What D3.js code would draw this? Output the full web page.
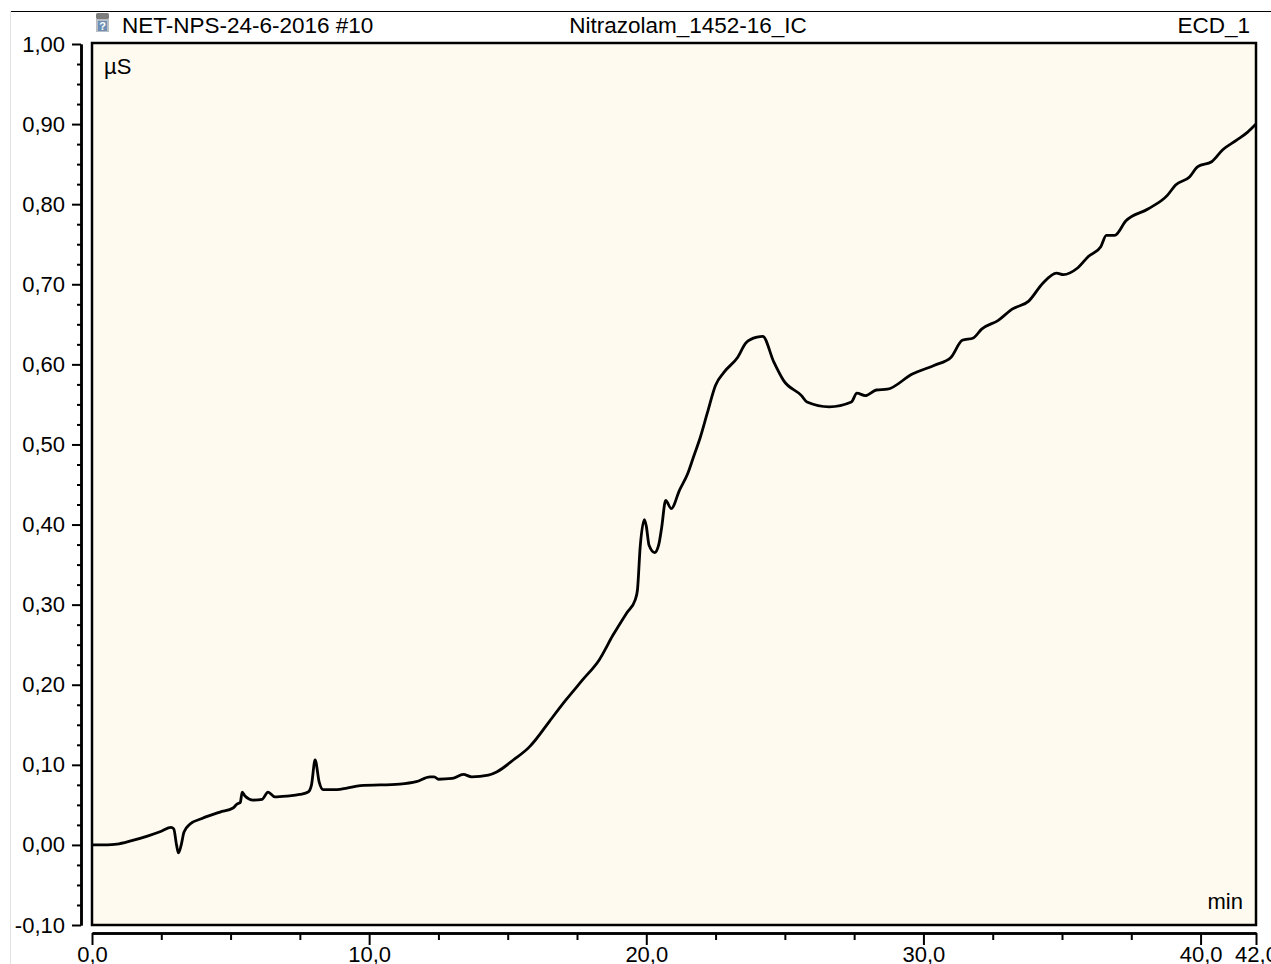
<!DOCTYPE html>
<html>
<head>
<meta charset="utf-8">
<script src="https://cdn.jsdelivr.net/npm/d3@7"></script>
<style>
  html, body { margin: 0; padding: 0; background: #ffffff; }
  svg { display: block; }
  text { font-family: "Liberation Sans", Arial, sans-serif; fill: #000; }
</style>
</head>
<body>
<script>
// Chromatogram trace: retention time (min) and detector signal (µS)
const timeMin = [
  0.0, 0.55, 0.9, 1.4, 2.0, 2.5, 2.85, 2.95, 3.05, 3.12, 3.22, 3.32, 3.54, 3.97,
  4.62, 5.09, 5.23, 5.35, 5.42, 5.52, 5.81, 6.14, 6.35, 6.6, 7.04, 7.5, 7.8, 7.92,
  8.05, 8.2, 8.34, 8.84, 9.2, 9.68, 11.1, 11.7, 12.2, 12.35, 12.5, 13.0, 13.4, 13.7,
  14.3, 14.6, 15.2, 15.8, 16.0, 16.5, 17.1, 17.7, 18.3, 18.8, 19.3, 19.6, 19.68,
  19.78, 19.93, 20.0, 20.1, 20.3, 20.45, 20.55, 20.7, 20.9, 21.2, 21.5, 21.7, 21.95,
  22.2, 22.5, 22.8, 23.3, 23.6, 24.0, 24.2, 24.6, 24.95, 25.6, 25.8, 26.6, 27.4,
  27.6, 27.9, 28.3, 28.7, 29.6, 30.4, 31.0, 31.4, 31.8, 32.1, 32.7, 33.2, 33.8,
  34.3, 34.8, 35.05, 35.55, 35.96, 36.4, 36.6, 36.9, 37.3, 38.1, 38.8, 39.1, 39.6,
  39.9, 40.4, 40.8, 41.3, 41.7, 42.0
];
const signalUS = [
  0.000, 0.000, 0.001, 0.005, 0.011, 0.017, 0.022, 0.020, 0.000, -0.010, 0.000, 0.016, 0.026, 0.033,
  0.041, 0.046, 0.051, 0.053, 0.066, 0.061, 0.056, 0.057, 0.066, 0.060, 0.061, 0.063, 0.066, 0.075,
  0.106, 0.078, 0.069, 0.069, 0.071, 0.074, 0.076, 0.079, 0.085, 0.085, 0.082, 0.083, 0.088, 0.085,
  0.087, 0.091, 0.106, 0.123, 0.131, 0.154, 0.181, 0.206, 0.231, 0.262, 0.290, 0.306, 0.318,
  0.372, 0.406, 0.398, 0.374, 0.365, 0.375, 0.395, 0.430, 0.420, 0.443, 0.464, 0.484, 0.509,
  0.539, 0.574, 0.590, 0.609, 0.627, 0.634, 0.635, 0.603, 0.580, 0.561, 0.553, 0.547, 0.553,
  0.564, 0.561, 0.568, 0.569, 0.588, 0.599, 0.609, 0.630, 0.633, 0.644, 0.655, 0.669, 0.679,
  0.701, 0.714, 0.712, 0.720, 0.735, 0.747, 0.761, 0.761, 0.779, 0.794, 0.811, 0.824, 0.834,
  0.847, 0.853, 0.868, 0.880, 0.890, 0.900
];

// Axis ticks and their labels (decimal comma)
const yMajorTicks = [-0.1, 0.0, 0.1, 0.2, 0.3, 0.4, 0.5, 0.6, 0.7, 0.8, 0.9, 1.0];
const yTickLabels = ["-0,10", "0,00", "0,10", "0,20", "0,30", "0,40", "0,50", "0,60", "0,70", "0,80", "0,90", "1,00"];
const yMinorTicks = [-0.075, -0.05, -0.025, 0.025, 0.05, 0.075, 0.125, 0.15, 0.175, 0.225, 0.25, 0.275,
  0.325, 0.35, 0.375, 0.425, 0.45, 0.475, 0.525, 0.55, 0.575, 0.625, 0.65, 0.675, 0.725, 0.75, 0.775,
  0.825, 0.85, 0.875, 0.925, 0.95, 0.975];
const xMajorTicks = [0, 10, 20, 30, 40, 42];
const xTickLabels = ["0,0", "10,0", "20,0", "30,0", "40,0", "42,0"];
const xMinorTicks = [2.5, 5, 7.5, 12.5, 15, 17.5, 22.5, 25, 27.5, 32.5, 35, 37.5];

// Header texts
const sampleName = "NET-NPS-24-6-2016 #10";
const programName = "Nitrazolam_1452-16_IC";
const channelName = "ECD_1";
const yUnit = "µS";
const xUnit = "min";

const W = 1271, H = 964;
const plot = { left: 92, right: 1256, top: 43, bottom: 925 };

const svg = d3.select("body").append("svg")
  .attr("width", W).attr("height", H);

// outer frame
svg.append("line").attr("x1", 10).attr("x2", W).attr("y1", 11.5).attr("y2", 11.5)
  .attr("stroke", "#000").attr("stroke-width", 1);
svg.append("line").attr("x1", 10.5).attr("x2", 10.5).attr("y1", 11).attr("y2", H)
  .attr("stroke", "#e2e2e2").attr("stroke-width", 1);

const x = d3.scaleLinear().domain([0, 42]).range([plot.left, plot.right]);
const y = d3.scaleLinear().domain([-0.1, 1.0]).range([plot.bottom, 44]);

// plot background
svg.append("rect")
  .attr("x", plot.left).attr("y", plot.top)
  .attr("width", plot.right - plot.left).attr("height", plot.bottom - plot.top)
  .attr("fill", "#fffaf0");

// clip for the trace
svg.append("clipPath").attr("id", "plotClip").append("rect")
  .attr("x", plot.left).attr("y", plot.top)
  .attr("width", plot.right - plot.left).attr("height", plot.bottom - plot.top);

const data = timeMin.map((t, i) => ({ t, v: signalUS[i] }));
const line = d3.line().x(d => x(d.t)).y(d => y(d.v)).curve(d3.curveMonotoneX);

svg.append("path")
  .datum(data)
  .attr("clip-path", "url(#plotClip)")
  .attr("d", line)
  .attr("fill", "none")
  .attr("stroke", "#000")
  .attr("stroke-width", 2.8)
  .attr("stroke-linejoin", "round");

// plot border
svg.append("rect")
  .attr("x", plot.left).attr("y", plot.top)
  .attr("width", plot.right - plot.left).attr("height", plot.bottom - plot.top)
  .attr("fill", "none").attr("stroke", "#000").attr("stroke-width", 2.5);

const FS = 22;

// Y axis
const yAxisX = 81;
const yMinorG = svg.append("g").attr("transform", `translate(${yAxisX},0)`)
  .call(d3.axisLeft(y).tickValues(yMinorTicks).tickSize(4).tickSizeOuter(0).tickFormat(""));
const yMajorG = svg.append("g").attr("transform", `translate(${yAxisX},0)`)
  .call(d3.axisLeft(y).tickValues(yMajorTicks).tickSize(9).tickSizeOuter(0).tickPadding(7)
    .tickFormat((d, i) => yTickLabels[i]));
[yMinorG, yMajorG].forEach(g => {
  g.select(".domain").attr("stroke", "#000").attr("stroke-width", 2.5);
  g.selectAll(".tick line").attr("stroke", "#000").attr("stroke-width", 2);
  g.selectAll("text").attr("font-size", FS).attr("font-family", "Liberation Sans, Arial, sans-serif").attr("fill", "#000");
  g.attr("font-size", null).attr("font-family", null);
});

// X axis
const xAxisY = 933;
const xMinorG = svg.append("g").attr("transform", `translate(0,${xAxisY})`)
  .call(d3.axisBottom(x).tickValues(xMinorTicks).tickSize(7).tickSizeOuter(0).tickFormat(""));
const xMajorG = svg.append("g").attr("transform", `translate(0,${xAxisY})`)
  .call(d3.axisBottom(x).tickValues(xMajorTicks).tickSize(12).tickSizeOuter(0).tickPadding(1)
    .tickFormat((d, i) => xTickLabels[i]));
[xMinorG, xMajorG].forEach(g => {
  g.select(".domain").attr("stroke", "#000").attr("stroke-width", 2.5);
  g.selectAll(".tick line").attr("stroke", "#000").attr("stroke-width", 2);
  g.selectAll("text").attr("font-size", FS).attr("font-family", "Liberation Sans, Arial, sans-serif").attr("fill", "#000");
  g.attr("font-size", null).attr("font-family", null);
});

// unit labels inside the plot
svg.append("text").attr("x", 104).attr("y", 74).attr("font-size", FS).text(yUnit);
svg.append("text").attr("x", 1243).attr("y", 909).attr("font-size", FS)
  .attr("text-anchor", "end").text(xUnit);

// header: sample vial icon
const icon = svg.append("g").attr("transform", "translate(96,13)");
icon.append("rect").attr("x", 0).attr("y", 0).attr("width", 13).attr("height", 6)
  .attr("rx", 1.5).attr("fill", "#7d7d7d");
icon.append("rect").attr("x", 0).attr("y", 6).attr("width", 13).attr("height", 13)
  .attr("fill", "#b9bec4");
icon.append("rect").attr("x", 2).attr("y", 8).attr("width", 9).attr("height", 10)
  .attr("fill", "#6d8fb5");
icon.append("text").attr("x", 6.5).attr("y", 17).attr("text-anchor", "middle")
  .attr("font-size", 11).attr("font-weight", "bold").style("fill", "#ffffff").text("?");

// header texts
const HFS = 22.5;
svg.append("text").attr("x", 122).attr("y", 33).attr("font-size", HFS).text(sampleName);
svg.append("text").attr("x", 688).attr("y", 33).attr("font-size", HFS)
  .attr("text-anchor", "middle").text(programName);
svg.append("text").attr("x", 1250).attr("y", 33).attr("font-size", HFS)
  .attr("text-anchor", "end").text(channelName);
</script>
</body>
</html>
